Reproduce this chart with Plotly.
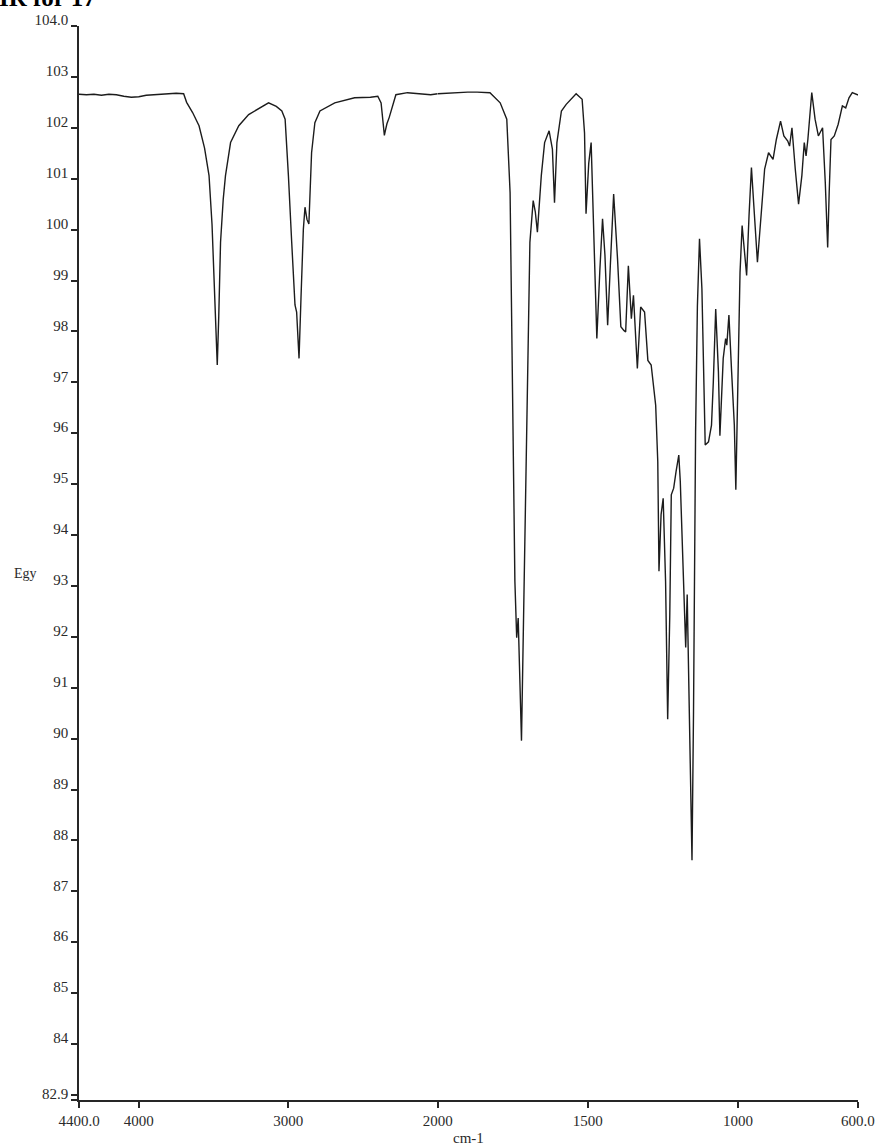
import plotly.graph_objects as go

# IR spectrum: wavenumber (cm-1) and signal values
wn_high = [4400, 4350, 4300, 4250, 4200, 4150, 4100, 4050, 4000, 3950, 3900, 3850,
           3800, 3750, 3700, 3680, 3640, 3597, 3560, 3530, 3510, 3497, 3485, 3475,
           3465, 3453, 3435, 3420, 3386, 3331, 3265, 3200, 3132, 3080, 3043, 3021,
           3010, 2999, 2977, 2955, 2944, 2928, 2915, 2899, 2888, 2875, 2862, 2844,
           2822, 2788, 2689, 2600, 2556, 2450, 2401, 2379, 2357, 2350, 2340, 2325,
           2300, 2280, 2202, 2100, 2047, 2000]
sig_high = [102.66, 102.65, 102.66, 102.64, 102.66, 102.65, 102.62, 102.60, 102.61,
            102.64, 102.65, 102.66, 102.68, 102.68, 102.67, 102.50, 102.30, 102.04,
            101.60, 101.06, 100.10, 99.10, 98.00, 97.34, 98.30, 99.75, 100.60, 101.06,
            101.71, 102.04, 102.26, 102.38, 102.49, 102.42, 102.33, 102.17, 101.70,
            101.06, 99.75, 98.52, 98.38, 97.47, 98.64, 100.01, 100.44, 100.20, 100.11,
            101.51, 102.10, 102.33, 102.49, 102.56, 102.59, 102.60, 102.62, 102.49,
            101.85, 101.95, 102.08, 102.20, 102.45, 102.65, 102.69, 102.66, 102.65,
            102.67]

wn_low = [2000, 1950, 1900, 1869, 1826, 1792, 1770, 1759, 1754, 1748, 1743, 1737,
          1732, 1721, 1710, 1704, 1697, 1693, 1682, 1675, 1668, 1655, 1644, 1629,
          1618, 1611, 1603, 1588, 1572, 1539, 1519, 1511, 1506, 1497, 1489, 1482,
          1470, 1460, 1451, 1443, 1434, 1425, 1414, 1401, 1390, 1380, 1374, 1365,
          1355, 1348, 1335, 1324, 1311, 1300, 1289, 1274, 1267, 1263, 1256, 1249,
          1241, 1234, 1227, 1222, 1214, 1206, 1197, 1192, 1181, 1174, 1169, 1162,
          1153, 1148, 1144, 1141, 1135, 1128, 1120, 1115, 1109, 1098, 1088, 1082,
          1074, 1065, 1060, 1049, 1041, 1037, 1030, 1021, 1012, 1007, 999, 993,
          986, 978, 971, 963, 955, 947, 935, 922, 911, 898, 883, 872, 858, 847,
          834, 828, 820, 809, 798, 787, 779, 773, 767, 754, 743, 732, 718, 709,
          701, 696, 690, 679, 666, 652, 641, 630, 619, 602, 600]
sig_low = [102.67, 102.69, 102.70, 102.70, 102.69, 102.49, 102.17, 100.73, 98.50,
           95.70, 93.09, 91.98, 92.37, 89.96, 93.75, 96.36, 98.77, 99.75, 100.57,
           100.35, 99.95, 101.06, 101.71, 101.94, 101.58, 100.53, 101.71, 102.33,
           102.46, 102.67, 102.56, 101.90, 100.31, 101.30, 101.71, 100.28, 97.86,
           99.20, 100.21, 99.50, 98.12, 99.30, 100.70, 99.42, 98.09, 98.02, 97.99,
           99.29, 98.25, 98.71, 97.27, 98.48, 98.38, 97.43, 97.34, 96.55, 95.44,
           93.29, 94.40, 94.72, 93.09, 90.38, 92.44, 94.79, 94.92, 95.25, 95.57,
           95.05, 93.09, 91.79, 92.83, 90.48, 87.61, 90.48, 93.75, 96.03, 98.50,
           99.82, 98.84, 97.21, 95.77, 95.83, 96.16, 97.00, 98.44, 97.21, 95.95,
           97.47, 97.86, 97.73, 98.32, 97.21, 96.16, 94.89, 97.21, 99.16, 100.08,
           99.62, 99.10, 100.27, 101.22, 100.47, 99.36, 100.34, 101.19, 101.51,
           101.38, 101.77, 102.13, 101.84, 101.74, 101.64, 102.00, 101.19, 100.50,
           101.06, 101.71, 101.45, 101.77, 102.69, 102.17, 101.84, 102.00, 100.93,
           99.65, 100.73, 101.77, 101.84, 102.07, 102.43, 102.39, 102.59, 102.69,
           102.65, 102.65]

# axis ticks
x_hi_ticks = [4400, 4000, 3000]
x_hi_text = ["4400.0", "4000", "3000"]
x_lo_ticks = [2000, 1500, 1000, 600]
x_lo_text = ["2000", "1500", "1000", "600.0"]
y_ticks = [104, 103, 102, 101, 100, 99, 98, 97, 96, 95, 94, 93, 92, 91, 90, 89,
           88, 87, 86, 85, 84, 83, 82.9]
y_text = ["104.0", "103", "102", "101", "100", "99", "98", "97", "96", "95", "94",
          "93", "92", "91", "90", "89", "88", "87", "86", "85", "84", "", "82.9"]

FONT = "Liberation Serif"
INK = "#1c1c1c"
AX = "#262626"
TXT = "#2a2a2a"

W, H = 887, 1147
L, R, T, B = 79, 23, 23, 46.5
PW, PH = W - L - R, H - T - B
split = (440.5 - L) / PW


def px_x(px):
    return (px - L) / PW


def px_y(py):
    return (H - B - py) / PH


fig = go.Figure()
line = dict(color=INK, width=1.4)
fig.add_trace(go.Scatter(x=wn_high, y=sig_high, mode="lines", line=line,
                         xaxis="x", yaxis="y", showlegend=False))
fig.add_trace(go.Scatter(x=wn_low, y=sig_low, mode="lines", line=line,
                         xaxis="x2", yaxis="y", showlegend=False))

xcommon = dict(showline=True, linecolor=AX, linewidth=1.5, ticks="outside",
               ticklen=6, tickwidth=1.5, tickcolor=AX, showgrid=False,
               zeroline=False, tickfont=dict(family=FONT, size=15, color=TXT),
               anchor="y", mirror=False)

fig.update_layout(
    width=W, height=H,
    margin=dict(l=L, r=R, t=T, b=B, pad=0),
    paper_bgcolor="white", plot_bgcolor="white",
    xaxis=dict(domain=[0, split], range=[4400, 2000], tickmode="array",
               tickvals=x_hi_ticks, ticktext=x_hi_text, **xcommon),
    xaxis2=dict(domain=[split, 1], range=[2000, 600], tickmode="array",
                tickvals=x_lo_ticks, ticktext=x_lo_text, **xcommon),
    yaxis=dict(range=[82.9, 104.0], tickmode="array", tickvals=y_ticks,
               ticktext=y_text, showline=True, linecolor=AX, linewidth=1.5,
               ticks="outside", ticklen=6, tickwidth=1.5, tickcolor=AX,
               showgrid=False, zeroline=False, anchor="x",
               ticklabelshift=-6,
               tickfont=dict(family=FONT, size=15, color=TXT)),
    annotations=[
        dict(text="cm-1", xref="paper", yref="paper", x=0.5, y=px_y(1139),
             xanchor="center", yanchor="middle", showarrow=False,
             font=dict(family=FONT, size=15, color=TXT)),
        dict(text="Egy", xref="paper", yref="paper", x=px_x(25),
             y=px_y(572), xanchor="center", yanchor="middle",
             showarrow=False, font=dict(family=FONT, size=14, color=TXT)),
        dict(text="<b>IR for 17</b>", xref="paper", yref="paper",
             x=px_x(98), y=px_y(10), xanchor="right",
             yanchor="bottom", showarrow=False,
             font=dict(family=FONT, size=25, color="black")),
    ],
)

fig.write_html("out.html")
